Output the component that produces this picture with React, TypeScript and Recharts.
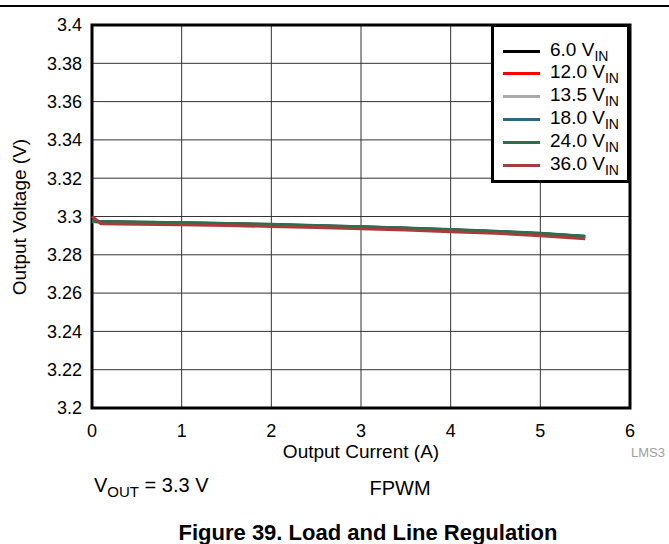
import { LineChart, Line, XAxis, YAxis, CartesianGrid, ReferenceArea } from "recharts";

const currents = [0, 0.1, 0.5, 1, 1.5, 2, 2.5, 3, 3.5, 4, 4.5, 5, 5.5];

const v6 = [3.2975, 3.2972, 3.2969, 3.2966, 3.2962, 3.2957, 3.2951, 3.2945, 3.2938, 3.293, 3.2921, 3.291, 3.2895];
const v12 = [3.2974, 3.2971, 3.2968, 3.2965, 3.2961, 3.2956, 3.295, 3.2944, 3.2937, 3.2929, 3.292, 3.2909, 3.2893];
const v13 = [3.2974, 3.2971, 3.2968, 3.2965, 3.2961, 3.2956, 3.295, 3.2944, 3.2937, 3.2929, 3.292, 3.2909, 3.2893];
const v18 = [3.2976, 3.2973, 3.297, 3.2967, 3.2963, 3.2958, 3.2952, 3.2946, 3.2939, 3.2931, 3.2922, 3.2911, 3.2896];
const v24 = [3.2977, 3.2974, 3.2971, 3.2968, 3.2964, 3.2959, 3.2953, 3.2947, 3.294, 3.2932, 3.2923, 3.2912, 3.2897];
const v36 = [3.3001, 3.2962, 3.296, 3.2957, 3.2953, 3.2948, 3.2942, 3.2936, 3.2929, 3.2921, 3.2912, 3.29, 3.2884];

const xTicks = [0, 1, 2, 3, 4, 5, 6];
const yTicks = [3.2, 3.22, 3.24, 3.26, 3.28, 3.3, 3.32, 3.34, 3.36, 3.38, 3.4];

const series = [
  { key: "v6", label: "6.0 V", color: "#000000", values: v6 },
  { key: "v12", label: "12.0 V", color: "#ff0000", values: v12 },
  { key: "v13", label: "13.5 V", color: "#aaaaaa", values: v13 },
  { key: "v18", label: "18.0 V", color: "#2f6683", values: v18 },
  { key: "v24", label: "24.0 V", color: "#2d6e4c", values: v24 },
  { key: "v36", label: "36.0 V", color: "#a83c3c", values: v36 },
];

const data = currents.map((c, i) => {
  const row: Record<string, number> = { current: c };
  series.forEach((s) => {
    row[s.key] = s.values[i];
  });
  return row;
});

const font = "'Liberation Sans', Arial, sans-serif";

export default function App() {
  return (
    <div style={{ position: "absolute", left: 0, top: 0, width: 669, height: 544, fontFamily: font, background: "#fff", overflow: "hidden" }}>
      <div style={{ position: "absolute", left: 0, top: 5, width: 669, height: 2, background: "#000" }} />
      <LineChart width={669} height={544} data={data} margin={{ top: 25, right: 39, bottom: 0, left: 0 }}>
        <CartesianGrid stroke="#333" strokeWidth={1} />
        <XAxis
          dataKey="current"
          type="number"
          domain={[0, 6]}
          ticks={xTicks}
          height={136}
          axisLine={false}
          tickLine={false}
          tick={{ fontSize: 18, fill: "#000", fontFamily: font }}
          tickMargin={10}
        />
        <YAxis
          type="number"
          domain={[3.2, 3.4]}
          ticks={yTicks}
          width={92}
          axisLine={false}
          tickLine={false}
          tick={{ fontSize: 18, fill: "#000", fontFamily: font }}
          tickFormatter={(v: number) => String(Number(v.toFixed(2)))}
          tickMargin={4}
          allowDataOverflow
        />
        {series.map((s) => (
          <Line
            key={s.key}
            type="linear"
            dataKey={s.key}
            stroke={s.color}
            strokeWidth={3}
            dot={false}
            isAnimationActive={false}
          />
        ))}
        <ReferenceArea x1={0} x2={6} y1={3.2} y2={3.4} fill="none" stroke="#000" strokeWidth={3} />
      </LineChart>

      <div
        style={{
          position: "absolute",
          left: 20,
          top: 217,
          transform: "translate(-50%, -50%) rotate(-90deg)",
          fontSize: 19,
          whiteSpace: "nowrap",
        }}
      >
        Output Voltage (V)
      </div>
      <div style={{ position: "absolute", left: 361, top: 452, transform: "translate(-50%, -50%)", fontSize: 19, whiteSpace: "nowrap" }}>
        Output Current (A)
      </div>
      <div style={{ position: "absolute", left: 631, top: 452, transform: "translate(0, -50%)", fontSize: 13, color: "#a0a0a0", whiteSpace: "nowrap" }}>
        LMS3
      </div>
      <div style={{ position: "absolute", left: 94, top: 486, transform: "translate(0, -50%)", fontSize: 20, whiteSpace: "nowrap", lineHeight: "22px" }}>
        V<sub style={{ fontSize: 15, lineHeight: "15px" }}>OUT</sub> = 3.3 V
      </div>
      <div style={{ position: "absolute", left: 400, top: 488, transform: "translate(-50%, -50%)", fontSize: 20, whiteSpace: "nowrap" }}>
        FPWM
      </div>
      <div
        style={{
          position: "absolute",
          left: 368,
          top: 533,
          transform: "translate(-50%, -50%)",
          fontSize: 22,
          fontWeight: "bold",
          whiteSpace: "nowrap",
        }}
      >
        Figure 39. Load and Line Regulation
      </div>

      <div
        style={{
          position: "absolute",
          left: 491,
          top: 24,
          width: 133,
          height: 153,
          border: "3px solid #000",
          background: "#fff",
        }}
      >
        {series.map((s, i) => (
          <div key={s.key} style={{ position: "absolute", left: 9, top: 12 + i * 22.8, height: 24, display: "flex", alignItems: "center" }}>
            <div style={{ width: 37, height: 3, background: s.color }} />
            <div style={{ marginLeft: 10, fontSize: 19, whiteSpace: "nowrap", lineHeight: "19px" }}>
              {s.label}
              <sub style={{ fontSize: 14, lineHeight: "14px" }}>IN</sub>
            </div>
          </div>
        ))}
      </div>
    </div>
  );
}
